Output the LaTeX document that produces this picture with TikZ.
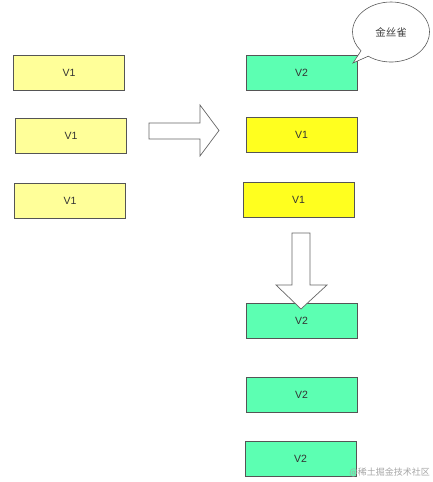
\documentclass[tikz,border=0pt]{standalone}
\usepackage{fontspec}
\setmainfont{Liberation Sans}
\newfontfamily\cjk{Noto Sans CJK SC}
\usetikzlibrary{shapes.callouts}
\definecolor{ylight}{HTML}{FFFF99}
\definecolor{ystrong}{HTML}{FFFF1F}
\definecolor{gmint}{HTML}{5CFFB2}
\definecolor{edgegray}{HTML}{555555}
\tikzset{
  box/.style={draw=edgegray, line width=0.8pt, minimum width=111pt, minimum height=35pt, inner sep=0pt, font=\fontsize{10.5}{12}\selectfont, text=black!80},
  v1l/.style={box, fill=ylight},
  v1s/.style={box, fill=ystrong},
  v2/.style={box, fill=gmint},
  blockarrow/.style={draw=black!60, line width=0.7pt, fill=white},
}
\begin{document}
\begin{tikzpicture}[x=1pt,y=-1pt]
\useasboundingbox (0,0) rectangle (432,482);
% left column
\node[v1l] (l1) at (69,72.5) {V1};
\node[v1l] (l2) at (71,135.5) {V1};
\node[v1l] (l3) at (70,200.5) {V1};
% right column
\node[v2] (r1) at (301.5,72.5) {V2};
\node[v1s] (r2) at (301.5,135) {V1};
\node[v1s] (r3) at (298.5,200) {V1};
\node[v2] (r4) at (301.5,320.5) {V2};
\node[v2] (r5) at (301.5,394.5) {V2};
\node[v2] (r6) at (300.5,459) {V2};
% block arrows
\draw[blockarrow] (149,123) -- (200,123) -- (200,105) -- (219,130.5) -- (200,156) -- (200,139) -- (149,139) -- cycle;
\draw[blockarrow] (292,233) -- (310,233) -- (310,285) -- (327,285) -- (301,309) -- (276,285) -- (292,285) -- cycle;
% callout
\coordinate (ptr) at (353,63);
\node[ellipse callout, draw=black!65, line width=0.6pt, fill=white, minimum width=77pt, minimum height=60pt, callout absolute pointer={(ptr)}, font=\cjk\fontsize{10.5}{12}\selectfont, text=black!75] (bubble) at (391,32) {金丝雀};
% watermark
\node[anchor=east, text=black!35, font=\cjk\fontsize{9}{10}\selectfont, inner sep=0pt] (wm) at (430,472) {@稀土掘金技术社区};
\end{tikzpicture}
\end{document}
